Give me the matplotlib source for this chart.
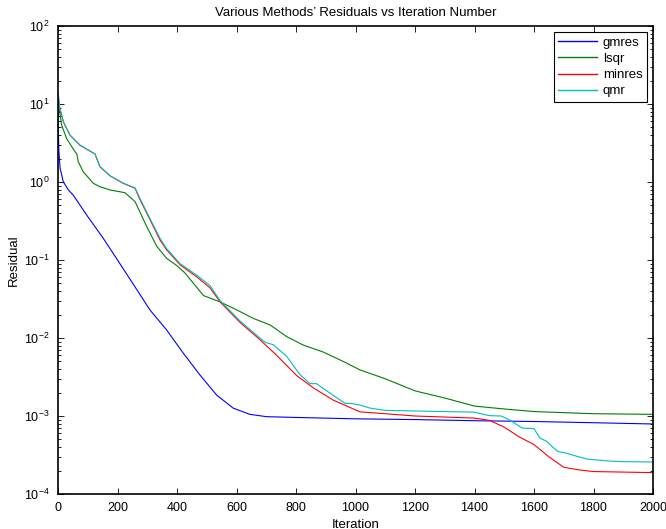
import matplotlib
matplotlib.use("Agg")
import matplotlib.pyplot as plt
from matplotlib.ticker import LogLocator, MultipleLocator, NullFormatter

plt.rcParams['font.family'] = ['Liberation Sans', 'DejaVu Sans']
plt.rcParams['mathtext.default'] = 'regular'
plt.rcParams['mathtext.fontset'] = 'custom'
plt.rcParams['mathtext.rm'] = 'Liberation Sans'

# ---- data ----
gmres_it = [0, 1, 3, 7, 18, 35, 51, 100, 150, 200, 250, 309, 365, 421, 477, 533, 589,
            645, 701, 790, 1000, 1200, 1400, 1600, 1800, 2000]
gmres_res = [12, 5.0, 2.5, 1.5, 1.0, 0.79, 0.68, 0.36, 0.195, 0.1, 0.051, 0.0229,
             0.0127, 0.0064, 0.00336, 0.00186, 0.00126, 0.00105, 0.00098, 0.00096,
             0.00092, 0.00090, 0.00087, 0.00085, 0.00082, 0.00079]

lsqr_it = [0, 4, 12, 29, 57, 63, 68, 85, 119, 141, 175, 225, 259, 298, 332, 365, 399,
           427, 489, 545, 600, 657, 713, 769, 825, 892, 959, 1015, 1100, 1200, 1300,
           1400, 1500, 1600, 1800, 2000]
lsqr_res = [12, 8.9, 5.4, 3.6, 2.45, 2.3, 1.82, 1.35, 0.96, 0.87, 0.79, 0.73, 0.56,
            0.27, 0.15, 0.105, 0.085, 0.068, 0.035, 0.029, 0.023, 0.0178, 0.0147,
            0.0104, 0.0081, 0.0066, 0.0050, 0.0039, 0.0030, 0.0021, 0.0017, 0.00134,
            0.00123, 0.00114, 0.00107, 0.00105]

minres_it = [0, 6, 18, 40, 74, 119, 124, 141, 175, 220, 259, 276, 309, 343, 365, 410,
             466, 511, 545, 612, 679, 735, 802, 858, 925, 1015, 1100, 1200, 1300, 1400,
             1450, 1500, 1550, 1600, 1650, 1700, 1750, 1800, 2000]
minres_res = [14, 8.9, 5.9, 4.0, 2.96, 2.35, 2.3, 1.57, 1.2, 0.96, 0.83, 0.59, 0.33,
              0.18, 0.135, 0.087, 0.061, 0.044, 0.029, 0.0158, 0.0095, 0.006, 0.0033,
              0.0023, 0.0016, 0.00113, 0.00107, 0.0010, 0.00097, 0.00094, 0.00088,
              0.00072, 0.00054, 0.00043, 0.0003, 0.00022, 0.000204, 0.000194, 0.000188]

qmr_it = [0, 6, 18, 40, 74, 119, 124, 141, 175, 220, 259, 276, 309, 343, 365, 410,
          466, 511, 545, 612, 690, 700, 724, 769, 813, 847, 869, 903, 965, 985, 1015,
          1050, 1100, 1200, 1300, 1400, 1450, 1490, 1520, 1560, 1600, 1620, 1640,
          1680, 1700, 1750, 1780, 1850, 1900, 2000]
qmr_res = [14, 8.9, 5.9, 4.0, 2.96, 2.35, 2.3, 1.57, 1.2, 0.96, 0.84, 0.61, 0.34,
           0.19, 0.14, 0.09, 0.064, 0.047, 0.03, 0.0165, 0.0092, 0.0087, 0.0082, 0.0058,
           0.0034, 0.0026, 0.0026, 0.0021, 0.00145, 0.00145, 0.00138, 0.00126, 0.00118,
           0.00116, 0.00114, 0.00112, 0.00101, 0.0010, 0.00088, 0.0007, 0.00069,
           0.00052, 0.00048, 0.00035, 0.00034, 0.0003, 0.00028, 0.000265, 0.00026,
           0.000257]

labels = ['gmres', 'lsqr', 'minres', 'qmr']
colors = ['#0000ff', '#008000', '#ff0000', '#00bfbf']

fig = plt.figure(figsize=(6.66, 5.29), dpi=100)
ax = fig.add_axes([58/666, 1-494/529, (653-58)/666, (494-26)/529])

series = [(gmres_it, gmres_res), (lsqr_it, lsqr_res), (minres_it, minres_res), (qmr_it, qmr_res)]
for (it, res), lab, c in zip(series, labels, colors):
    ax.semilogy(it, res, color=c, lw=0.8, label=lab)

ax.set_xlim(0, 2000)
ax.set_ylim(1e-4, 1e2)
ax.xaxis.set_major_locator(MultipleLocator(200))
ax.yaxis.set_major_locator(LogLocator(base=10, numticks=10))
ax.yaxis.set_minor_locator(LogLocator(base=10, subs=range(2, 10), numticks=100))
ax.yaxis.set_minor_formatter(NullFormatter())
ax.tick_params(which='both', direction='in', top=True, right=True, labelsize=9, width=0.6)
ax.tick_params(which='major', length=4.5)
ax.tick_params(which='minor', length=2.5)
ax.tick_params(axis='x', pad=5.5)
ax.tick_params(axis='y', pad=6)
for s in ax.spines.values():
    s.set_linewidth(1.2)

ax.set_title("Various Methods\u2019 Residuals vs Iteration Number", fontsize=9.5, pad=7)
ax.set_xlabel("Iteration", fontsize=9.5, labelpad=3.5)
ax.set_ylabel("Residual", fontsize=9.5, labelpad=3)

leg = ax.legend(loc='upper right', fontsize=9.5, fancybox=False, framealpha=1,
                edgecolor='black', borderaxespad=0.45, handlelength=2.95,
                handletextpad=0.4, labelspacing=0.3, borderpad=0.35)
leg.get_frame().set_linewidth(0.8)
for h in leg.get_lines():
    h.set_linewidth(1.0)

fig.savefig("out.png", dpi=100)
